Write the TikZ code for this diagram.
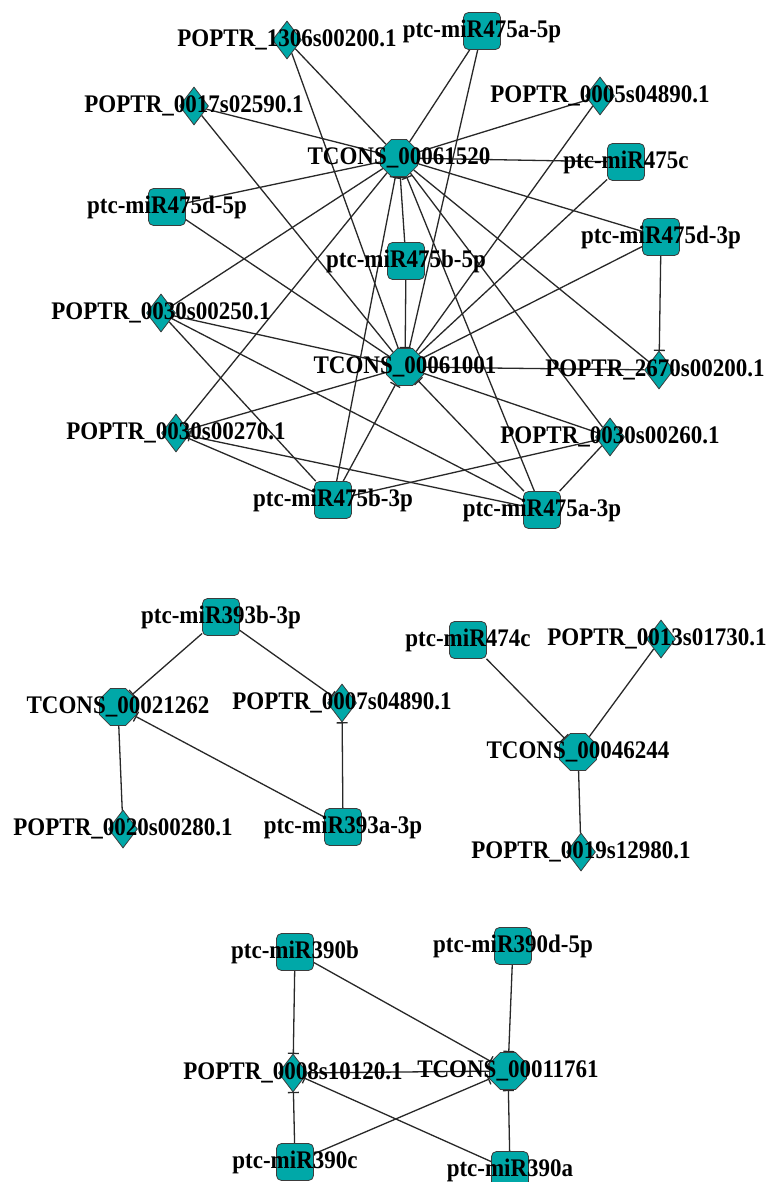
\documentclass[tikz,border=0pt]{standalone}
\usepackage{fontspec}
\setmainfont{Liberation Serif}
\usetikzlibrary{shapes.geometric,arrows.meta}
\definecolor{nodefill}{RGB}{0,168,168}
\definecolor{nodeborder}{RGB}{60,60,60}
\definecolor{edgecol}{RGB}{40,40,40}
\pgfdeclarelayer{bglayer}
\pgfdeclarelayer{edgelayer}
\pgfsetlayers{bglayer,edgelayer,main}
\newcommand{\nlab}[1]{\scalebox{1}[1.1]{#1}}
\begin{document}
\begin{tikzpicture}[x=1pt,y=-1pt,
 mir/.style={draw=nodeborder,fill=nodefill,line width=0.8pt,rounded corners=5pt,minimum width=37pt,minimum height=37pt,inner sep=0pt},
 gene/.style={draw=nodeborder,fill=nodefill,line width=0.8pt,diamond,minimum width=29pt,minimum height=38pt,inner sep=0pt},
 lnc/.style={draw=nodeborder,fill=nodefill,line width=0.8pt,regular polygon,regular polygon sides=8,minimum size=40pt,inner sep=0pt},
 lbl/.style={font=\fontsize{23}{23}\selectfont\bfseries,inner sep=0pt,text=black},
 link/.style={draw=edgecol,line width=1.3pt},
 inh/.style={link,-{Bar[width=11pt]}}
]
\begin{pgfonlayer}{bglayer}
\fill[white] (0,0) rectangle (766,1182);
\end{pgfonlayer}
\useasboundingbox (0,0) rectangle (766,1182);

% ---- top cluster nodes ----
\node[gene] (n1306) at (287,40) {};
\node[mir]  (m475a5) at (482,31) {};
\node[gene] (n0017) at (194,106) {};
\node[gene] (n0005) at (600,96) {};
\node[lnc]  (A) at (399,158) {};
\node[mir]  (m475c) at (626,162) {};
\node[mir]  (m475d5) at (167,207) {};
\node[mir]  (m475d3) at (661,237) {};
\node[mir]  (m475b5) at (406,261) {};
\node[gene] (n0250) at (161,313) {};
\node[lnc]  (B) at (405,367) {};
\node[gene] (n2670) at (659,370) {};
\node[gene] (n0270) at (176,433) {};
\node[gene] (n0260) at (610,437) {};
\node[mir]  (m475b3) at (333,500) {};
\node[mir]  (m475a3) at (542,510) {};

% ---- middle clusters ----
\node[mir]  (m393b) at (221,617) {};
\node[lnc]  (T21262) at (118,707) {};
\node[gene] (n0007) at (342,703) {};
\node[gene] (n0020) at (123,829) {};
\node[mir]  (m393a) at (343,827) {};
\node[mir]  (m474c) at (468,640) {};
\node[gene] (n0013) at (661,639) {};
\node[lnc]  (T46244) at (578,752) {};
\node[gene] (n0019) at (581,852) {};

% ---- bottom cluster ----
\node[mir]  (m390b) at (295,952) {};
\node[mir]  (m390d) at (513,946) {};
\node[gene] (n0008) at (293,1073) {};
\node[lnc]  (T11761) at (508,1071) {};
\node[mir]  (m390c) at (295,1162) {};
\node[mir]  (m390a) at (510,1170) {};

% ---- edges ----
\begin{pgfonlayer}{edgelayer}
\foreach \p in {n1306,m475a5,n0017,n0005,m475d5,m475d3,n0250,n2670,n0270,n0260}{
  \draw[link] (\p) -- (A);
  \draw[link] (\p) -- (B);
}
\draw[inh] (m475c) -- (A);
\draw[link] (m475c) -- (B);
\foreach \p in {m475b5,m475b3,m475a3}{
  \draw[inh] (\p) -- (A);
  \draw[inh] (\p) -- (B);
}
\draw[inh] (m475d3) -- (n2670);
\draw[link] (m475b3) -- (n0250);
\draw[link] (m475a3) -- (n0250);
\draw[link] (m475b3) -- (n0270);
\draw[inh] (m475a3) -- (n0270);
\draw[link] (m475b3) -- (n0260);
\draw[link] (m475a3) -- (n0260);

\draw[inh] (m393b) -- (T21262);
\draw[inh] (m393b) -- (n0007);
\draw[inh] (m393a) -- (T21262);
\draw[inh] (m393a) -- (n0007);
\draw[link] (T21262) -- (n0020);
\draw[inh] (m474c) -- (T46244);
\draw[link] (n0013) -- (T46244);
\draw[link] (T46244) -- (n0019);

\draw[inh] (m390b) -- (n0008);
\draw[inh] (m390b) -- (T11761);
\draw[inh] (m390d) -- (T11761);
\draw[link] (n0008) -- (T11761);
\draw[inh] (m390c) -- (n0008);
\draw[inh] (m390c) -- (T11761);
\draw[inh] (m390a) -- (T11761);
\draw[inh] (m390a) -- (n0008);
\end{pgfonlayer}

% ---- labels ----
\node[lbl] (l1306) at (n1306) {\nlab{POPTR\_1306s00200.1}};
\node[lbl] (l475a5) at (m475a5) {\nlab{ptc-miR475a-5p}};
\node[lbl] (l0017) at (n0017) {\nlab{POPTR\_0017s02590.1}};
\node[lbl] (l0005) at (n0005) {\nlab{POPTR\_0005s04890.1}};
\node[lbl] (lA) at (A) {\nlab{TCONS\_00061520}};
\node[lbl] (l475c) at (m475c) {\nlab{ptc-miR475c}};
\node[lbl] (l475d5) at (m475d5) {\nlab{ptc-miR475d-5p}};
\node[lbl] (l475d3) at (m475d3) {\nlab{ptc-miR475d-3p}};
\node[lbl] (l475b5) at (m475b5) {\nlab{ptc-miR475b-5p}};
\node[lbl] (l0250) at (n0250) {\nlab{POPTR\_0030s00250.1}};
\node[lbl] (lB) at (B) {\nlab{TCONS\_00061001}};
\node[lbl] (l2670) at ([xshift=-4pt]n2670.center) {\nlab{POPTR\_2670s00200.1}};
\node[lbl] (l0270) at (n0270) {\nlab{POPTR\_0030s00270.1}};
\node[lbl] (l0260) at (n0260) {\nlab{POPTR\_0030s00260.1}};
\node[lbl] (l475b3) at (m475b3) {\nlab{ptc-miR475b-3p}};
\node[lbl] (l475a3) at (m475a3) {\nlab{ptc-miR475a-3p}};

\node[lbl] (l393b) at (m393b) {\nlab{ptc-miR393b-3p}};
\node[lbl] (l21262) at (T21262) {\nlab{TCONS\_00021262}};
\node[lbl] (l0007) at (n0007) {\nlab{POPTR\_0007s04890.1}};
\node[lbl] (l0020) at (n0020) {\nlab{POPTR\_0020s00280.1}};
\node[lbl] (l393a) at (m393a) {\nlab{ptc-miR393a-3p}};
\node[lbl] (l474c) at (m474c) {\nlab{ptc-miR474c}};
\node[lbl] (l0013) at ([xshift=-4pt]n0013.center) {\nlab{POPTR\_0013s01730.1}};
\node[lbl] (l46244) at (T46244) {\nlab{TCONS\_00046244}};
\node[lbl] (l0019) at (n0019) {\nlab{POPTR\_0019s12980.1}};

\node[lbl] (l390b) at (m390b) {\nlab{ptc-miR390b}};
\node[lbl] (l390d) at (m390d) {\nlab{ptc-miR390d-5p}};
\node[lbl] (l0008) at (n0008) {\nlab{POPTR\_0008s10120.1}};
\node[lbl] (l11761) at (T11761) {\nlab{TCONS\_00011761}};
\node[lbl] (l390c) at (m390c) {\nlab{ptc-miR390c}};
\node[lbl] (l390a) at (m390a) {\nlab{ptc-miR390a}};
\end{tikzpicture}
\end{document}
